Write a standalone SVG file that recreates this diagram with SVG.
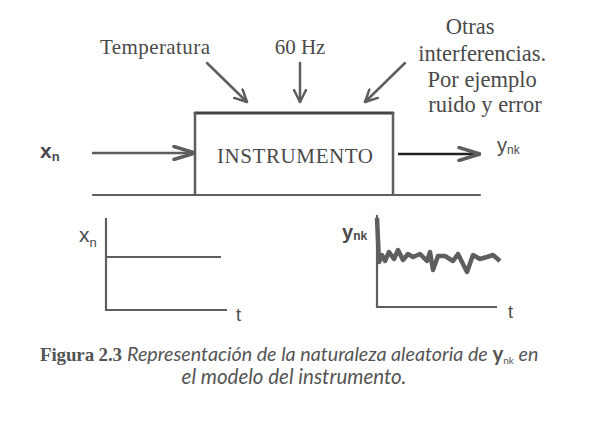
<svg xmlns="http://www.w3.org/2000/svg" width="594" height="422" viewBox="0 0 594 422">
<style>
.ser{font-family:"Liberation Serif","Times New Roman",serif;fill:#4a4a4a;}
.sans{font-family:"Liberation Sans",Arial,sans-serif;fill:#4a4a4a;}
.cap{font-family:Lato,"Open Sans",sans-serif;font-style:italic;fill:#555;}
.ln{stroke:#5e5e5e;stroke-width:2.5;fill:none;stroke-linecap:round;}
.ax{stroke:#5e5e5e;stroke-width:2.2;fill:none;}
</style>
<defs>
<marker id="chev" markerUnits="userSpaceOnUse" viewBox="0 0 14 14" refX="13" refY="7" markerWidth="14" markerHeight="14" orient="auto">
<path d="M1,1 L13,7 L1,13" fill="none" stroke="#5e5e5e" stroke-width="2.5" stroke-linecap="round" stroke-linejoin="round"/>
</marker>
<marker id="chevL" markerUnits="userSpaceOnUse" viewBox="0 0 24 16" refX="23" refY="8" markerWidth="24" markerHeight="16" orient="auto">
<path d="M2,1.5 L23,8 L2,14.5" fill="none" stroke="#5e5e5e" stroke-width="3.5" stroke-linecap="round" stroke-linejoin="round"/>
</marker>
</defs>
<rect width="594" height="422" fill="#fff"/>

<g id="instrumento">
<line class="ln" x1="195" y1="113" x2="393" y2="113" style="stroke-width:3;stroke:#444"/>
<line class="ln" x1="195" y1="113" x2="195" y2="195"/>
<line class="ln" x1="393" y1="113" x2="393" y2="195"/>
<text class="ser" x="295" y="163" font-size="21" text-anchor="middle" textLength="156">INSTRUMENTO</text>
</g>

<g id="baseline">
<line class="ln" x1="93" y1="195" x2="480" y2="195" style="stroke-width:2.2"/>
</g>

<g id="temperatura">
<text class="ser" x="155" y="54" font-size="21" text-anchor="middle" textLength="110">Temperatura</text>
</g>
<g id="hz60">
<text class="ser" x="300" y="54" font-size="21" text-anchor="middle">60 Hz</text>
</g>
<g id="otras">
<text class="ser" font-size="22.5" text-anchor="middle">
<tspan x="473" y="34">Otras</tspan>
<tspan x="485" y="61">interferencias.</tspan>
<tspan x="485" y="87">Por ejemplo</tspan>
<tspan x="485" y="112">ruido y error</tspan>
</text>
</g>

<g id="xn-in">
<text class="sans" x="40" y="158" font-size="21" font-weight="bold">x<tspan font-size="13" dy="3">n</tspan></text>
</g>
<g id="ynk-out">
<text class="sans" x="497" y="152" font-size="20">y<tspan font-size="12" dy="2">nk</tspan></text>
</g>

<g id="connectors">
<line class="ln" x1="207" y1="63" x2="247" y2="102" marker-end="url(#chev)"/>
<line class="ln" x1="300" y1="63" x2="300" y2="102" marker-end="url(#chev)"/>
<line class="ln" x1="405" y1="63" x2="365" y2="102" marker-end="url(#chev)"/>
<line class="ln" x1="93" y1="153" x2="195" y2="153" marker-end="url(#chevL)"/>
<line x1="398" y1="154" x2="480" y2="154" stroke="#222" stroke-width="2.5" marker-end="url(#chevL)"/>
</g>

<g id="graph-xn">
<path class="ax" d="M106,218 V310 H227"/>
<line class="ax" x1="106" y1="257" x2="221" y2="257"/>
<text class="sans" x="79" y="242" font-size="21">x<tspan font-size="13" dy="5">n</tspan></text>
<text class="sans" x="236" y="321" font-size="18">t</text>
</g>

<g id="graph-ynk">
<path class="ax" d="M377,215 V307 H497"/>
<polyline fill="none" stroke="#5e5e5e" stroke-width="4.5" stroke-linejoin="round" points="377,218 379,262 382,255 385,261 389,252 394,259 398,250 403,260 408,254 413,257 420,254 427,261 430,252 433,270 438,256 445,256 453,261 458,254 467,272 473,255 480,259 487,257 493,255 500,261"/>
<text class="sans" x="342" y="239" font-size="20" font-weight="bold" fill="#555">y<tspan font-size="12" dy="1">nk</tspan></text>
<text class="sans" x="508" y="318" font-size="18">t</text>
</g>

<g id="caption">
<text x="40" y="361" font-size="19" font-family="'Liberation Serif',serif" font-weight="bold" fill="#555" textLength="82">Figura 2.3</text>
<text class="cap" x="127" y="361" font-size="19.7">Representación de la naturaleza aleatoria de <tspan font-style="normal" font-weight="bold" font-size="20.5">y</tspan><tspan font-size="10" font-style="normal" dy="3">nk</tspan><tspan dy="-3"> en</tspan></text>
<text class="cap" x="294" y="384" font-size="20.5" text-anchor="middle">el modelo del instrumento.</text>
</g>
</svg>
